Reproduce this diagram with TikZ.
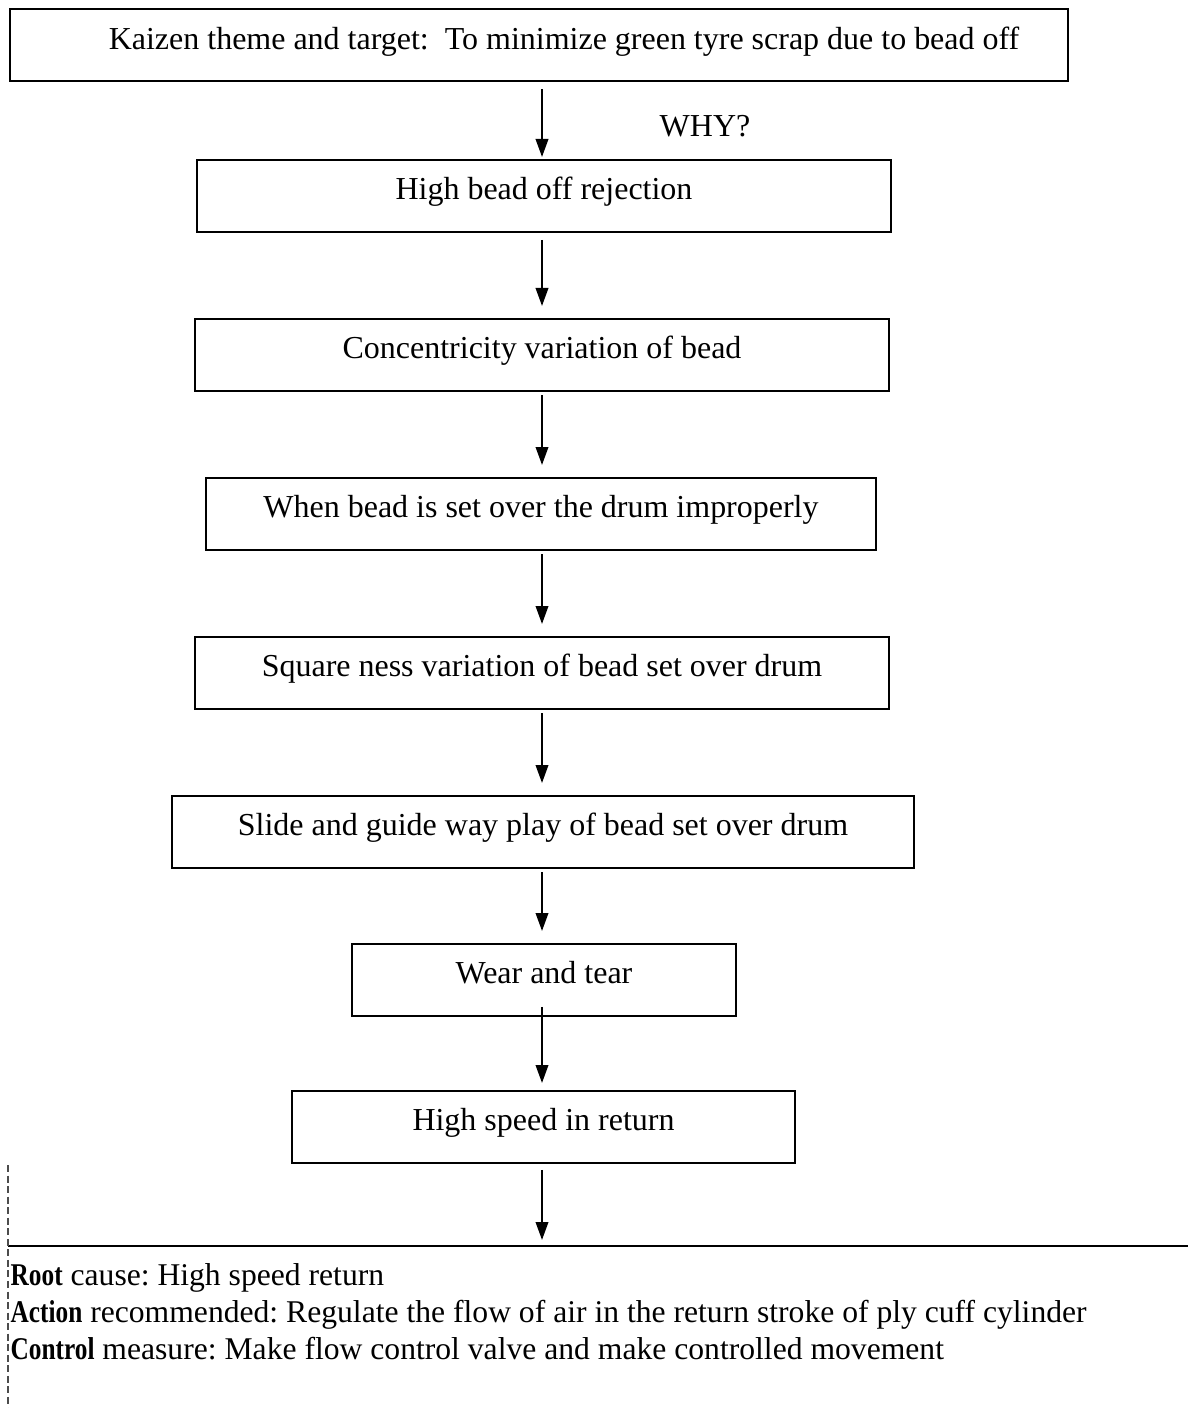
\documentclass[tikz,border=0pt]{standalone}
\usepackage{fontspec}
\setmainfont{Liberation Serif}
\usetikzlibrary{arrows.meta}
\newcommand{\leadword}[1]{\scalebox{0.8}[1]{\textbf{#1}}}
\begin{document}
\frenchspacing
\begin{tikzpicture}[x=0.1mm, y=-0.1mm,
  every node/.style={font=\fontsize{9.1pt}{11pt}\selectfont},
  whybox/.style={draw, line width=0.55pt, inner xsep=0pt, inner ysep=0pt,
    text height=4.0mm, text depth=3.2mm, anchor=north},
  flow/.style={-{Triangle[width=1.25mm, length=1.8mm]}, line width=0.6pt},
  finding/.style={anchor=base west, inner sep=0pt, font=\fontsize{9.0pt}{11pt}\selectfont},
  rule/.style={line width=0.7pt}]
\useasboundingbox (0,0) rectangle (1188,1408);
\coordinate (spine) at (542,0);

% chain of causes
\node[whybox, minimum width=1058*0.1mm, line width=0.7pt] (theme) at (539,8)
  {\hspace*{5mm}Kaizen theme and target:\ \ To minimize green tyre scrap due to bead off};
\node[whybox, minimum width=694*0.1mm] (w1) at (544,159) {High bead off rejection};
\node[whybox, minimum width=694*0.1mm] (w2) at (542,318) {Concentricity variation of bead};
\node[whybox, minimum width=670*0.1mm] (w3) at (541,477) {When bead is set over the drum improperly};
\node[whybox, minimum width=694*0.1mm] (w4) at (542,636) {Square ness variation of bead set over drum};
\node[whybox, minimum width=742*0.1mm] (w5) at (543,795) {Slide and guide way play of bead set over drum};
\node[whybox, minimum width=384*0.1mm] (w6) at (544,943) {Wear and tear};
\node[whybox, minimum width=503*0.1mm] (w7) at (543.5,1090) {High speed in return};

\node (why) at (705,126) {WHY?};

% conclusion panel
\coordinate (panelL) at (8,1246);
\coordinate (panelR) at (1188,1246);
\draw[rule] (panelL) -- (panelR);
\draw[line width=0.35pt, dash pattern=on 2pt off 1pt, black!70] (8,1165) -- (8,1408);

% arrows
\draw[flow, shorten <=2pt] (theme.south -| spine) -- ([yshift=0.2mm]w1.north -| spine);
\draw[flow, shorten <=2pt, shorten >=1.2mm] (w1.south -| spine) -- (w2.north -| spine);
\draw[flow, shorten <=1pt, shorten >=1.2mm] (w2.south -| spine) -- (w3.north -| spine);
\draw[flow, shorten <=1pt, shorten >=1.2mm] (w3.south -| spine) -- (w4.north -| spine);
\draw[flow, shorten <=1pt, shorten >=1.2mm] (w4.south -| spine) -- (w5.north -| spine);
\draw[flow, shorten <=1pt, shorten >=1.2mm] (w5.south -| spine) -- (w6.north -| spine);
\draw[flow, shorten <=-1mm, shorten >=0.7mm] (w6.south -| spine) -- (w7.north -| spine);
\draw[flow, shorten <=0.6mm, shorten >=0.6mm] (w7.south -| spine) -- (panelL -| spine);

% findings
\node[finding] (root) at (10,1285)
  {\leadword{Root} cause: High speed return};
\node[finding] (action) at (10,1322)
  {\leadword{Action} recommended: Regulate the flow of air in the return stroke of ply cuff cylinder};
\node[finding] (control) at (10,1359)
  {\leadword{Control} measure: Make flow control valve and make controlled movement};
\end{tikzpicture}
\end{document}
